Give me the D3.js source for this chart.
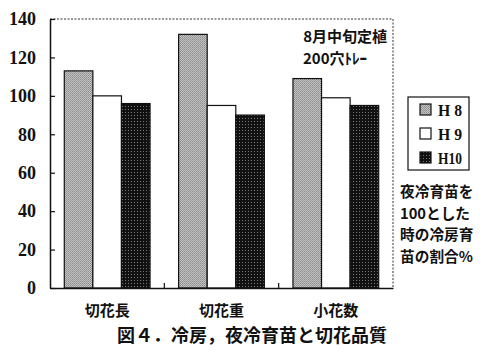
<!DOCTYPE html>
<html>
<head>
<meta charset="utf-8">
<script src="https://cdn.jsdelivr.net/npm/d3@7"></script>
<style>
body { margin: 0; background: #fff; }
</style>
</head>
<body>
<svg></svg>
<script>
const svgWidth = 495
const svgHeight = 359
const margins = { top: 19, bottom: 71, left: 50, right: 102 } // plot box 50..393, 19..288
const plotWidth = svgWidth - margins.left - margins.right
const plotHeight = svgHeight - margins.top - margins.bottom

// data
const categories = ["切花長", "切花重", "小花数"]
const seriesNames = ["H 8", "H 9", "H10"]
const h8 = [113, 132, 109]
const h9 = [100, 95, 99]
const h10 = [96, 90, 95]
const yTicks = [0, 20, 40, 60, 80, 100, 120, 140]
const noteLines = ["夜冷育苗を", "100とした", "時の冷房育", "苗の割合%"]

const seriesValues = [h8, h9, h10]

const svg = d3.select("svg")
    .attr("width", svgWidth)
    .attr("height", svgHeight)

const defs = svg.append("defs")
// gray stipple for H8
const p1 = defs.append("pattern").attr("id", "pH8")
    .attr("width", 2).attr("height", 2).attr("patternUnits", "userSpaceOnUse")
p1.append("rect").attr("width", 2).attr("height", 2).attr("fill", "#c4c4c4")
p1.append("rect").attr("width", 1).attr("height", 1).attr("fill", "#8a8a8a")
p1.append("rect").attr("x", 1).attr("y", 1).attr("width", 1).attr("height", 1).attr("fill", "#9a9a9a")
// dark grid for H10
const p3 = defs.append("pattern").attr("id", "pH10")
    .attr("width", 3).attr("height", 3).attr("patternUnits", "userSpaceOnUse")
p3.append("rect").attr("width", 3).attr("height", 3).attr("fill", "#111")
p3.append("rect").attr("width", 1).attr("height", 1).attr("fill", "#777")

const fills = ["url(#pH8)", "#ffffff", "url(#pH10)"]

const xScale = d3.scaleBand()
    .domain(categories)
    .range([0, plotWidth])
const xInner = d3.scaleBand()
    .domain(seriesNames)
    .range([0, xScale.bandwidth()])
    .paddingOuter(0.5)
    .paddingInner(0)
const yScale = d3.scaleLinear()
    .domain([0, 140])
    .range([plotHeight, 0])

const plotGroup = svg.append("g")
    .attr("transform", `translate(${margins.left},${margins.top})`)

// dashed frame top and right
plotGroup.append("line")
    .attr("x1", 0).attr("y1", 0).attr("x2", plotWidth).attr("y2", 0)
    .attr("stroke", "#333").attr("stroke-width", 1).attr("stroke-dasharray", "2,1.5")
plotGroup.append("line")
    .attr("x1", plotWidth).attr("y1", 0).attr("x2", plotWidth).attr("y2", plotHeight)
    .attr("stroke", "#333").attr("stroke-width", 1).attr("stroke-dasharray", "2,1.5")

// bars
seriesValues.forEach((vals, s) => {
    plotGroup.selectAll(".bar" + s)
        .data(vals)
        .join("rect")
        .attr("x", (d, i) => xScale(categories[i]) + xInner(seriesNames[s]))
        .attr("y", (d) => yScale(d))
        .attr("width", xInner.bandwidth())
        .attr("height", (d) => yScale(0) - yScale(d))
        .attr("fill", fills[s])
        .attr("stroke", "#111")
        .attr("stroke-width", 1.2)
})

// y axis
const yAxis = plotGroup.append("g")
    .call(d3.axisLeft(yScale).tickValues(yTicks).tickSizeInner(-5).tickSizeOuter(0).tickPadding(14))
yAxis.attr("font-family", null)
yAxis.select(".domain").attr("stroke", "#111").attr("stroke-width", 1.5)
yAxis.selectAll(".tick line").attr("stroke", "#111").attr("stroke-width", 1.2)
yAxis.selectAll("text")
    .attr("font-family", "'Liberation Serif', serif")
    .attr("font-weight", "bold")
    .attr("font-size", 18)
    .attr("fill", "#111")

// x axis
const xAxis = plotGroup.append("g")
    .attr("transform", `translate(0,${plotHeight})`)
    .call(d3.axisBottom(xScale).tickSize(0).tickPadding(17))
xAxis.select(".domain").attr("stroke", "#111").attr("stroke-width", 1.5)
xAxis.selectAll("text")
    .attr("font-family", "'Noto Sans CJK JP', sans-serif")
    .attr("font-weight", "bold")
    .attr("font-size", 15)
    .attr("fill", "#111")
// small inner ticks between categories
plotGroup.selectAll(".sep")
    .data(categories.slice(1))
    .join("line")
    .attr("x1", (d) => xScale(d)).attr("x2", (d) => xScale(d))
    .attr("y1", plotHeight).attr("y2", plotHeight - 5)
    .attr("stroke", "#111").attr("stroke-width", 1.2)

// annotation inside the plot
plotGroup.append("text")
    .text("8月中旬定植")
    .attr("x", plotWidth - 6)
    .attr("y", 23)
    .attr("text-anchor", "end")
    .attr("font-family", "'Noto Sans CJK JP', sans-serif")
    .attr("font-weight", "bold")
    .attr("font-size", 15)
    .attr("fill", "#111")
plotGroup.append("text")
    .text("200穴ﾄﾚｰ")
    .attr("x", 253)
    .attr("y", 45)
    .attr("font-family", "'Noto Sans CJK JP', sans-serif")
    .attr("font-weight", "bold")
    .attr("font-size", 15)
    .attr("fill", "#111")

// legend
const legend = svg.append("g").attr("transform", "translate(408,97)")
legend.append("rect")
    .attr("width", 61).attr("height", 73)
    .attr("fill", "#fff").attr("stroke", "#111").attr("stroke-width", 1.2)
seriesNames.forEach((name, i) => {
    const row = legend.append("g").attr("transform", `translate(0,${13 + i * 24})`)
    row.append("rect")
        .attr("x", 12).attr("y", -6).attr("width", 11).attr("height", 11)
        .attr("fill", fills[i]).attr("stroke", "#111").attr("stroke-width", 1.2)
    row.append("text")
        .text(name)
        .attr("x", 30)
        .attr("y", 6)
        .attr("font-family", "'Liberation Serif', serif")
        .attr("font-weight", "bold")
        .attr("font-size", 17)
        .attr("fill", "#111")
        .attr("textLength", 24)
        .attr("lengthAdjust", "spacingAndGlyphs")
        .style("white-space", "pre")
})

// side note
svg.append("g")
    .selectAll("text")
    .data(noteLines)
    .join("text")
    .text((d) => d)
    .attr("x", 400)
    .attr("y", (d, i) => 197 + i * 21.5)
    .attr("font-family", "'Noto Sans CJK JP', sans-serif")
    .attr("font-weight", "bold")
    .attr("font-size", 14.7)
    .attr("fill", "#111")

// caption
svg.append("text")
    .text("図４．冷房，夜冷育苗と切花品質")
    .attr("x", 252)
    .attr("y", 342)
    .attr("text-anchor", "middle")
    .attr("font-family", "'Noto Sans CJK JP', sans-serif")
    .attr("font-weight", "bold")
    .attr("font-size", 18)
    .attr("fill", "#111")
</script>
</body>
</html>
